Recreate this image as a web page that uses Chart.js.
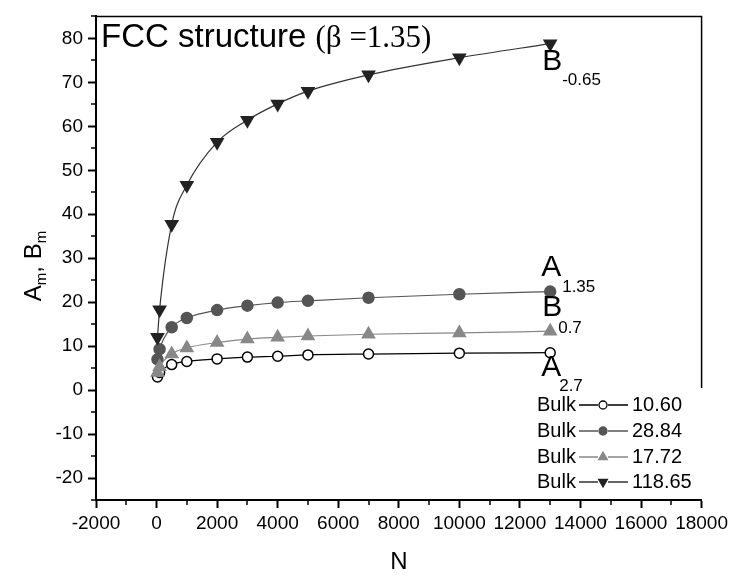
<!DOCTYPE html>
<html>
<head>
<meta charset="utf-8">
<script src="https://cdn.jsdelivr.net/npm/chart.js@4.4.1/dist/chart.umd.min.js"></script>
<style>
  html, body { margin: 0; padding: 0; background: #fff; }
  #wrap { width: 732px; height: 576px; }
</style>
</head>
<body>
<div id="wrap"><canvas id="c" width="732" height="576"></canvas></div>
<script>
// Cluster size N and the coefficients for each series
const N      = [30, 100, 500, 1000, 2000, 3000, 4000, 5000, 7000, 10000, 13000];
const A27    = [3.0, 4.0, 5.8, 6.5, 7.1, 7.5, 7.7, 8.0, 8.2, 8.4, 8.5];
const A135   = [7.0, 9.3, 14.3, 16.4, 18.2, 19.2, 19.9, 20.3, 21.0, 21.8, 22.4];
const B07    = [4.0, 5.3, 8.2, 9.6, 10.8, 11.6, 12.0, 12.3, 12.7, 13.0, 13.4];
const Bm065  = [12.0, 18.3, 37.7, 46.6, 56.4, 61.4, 65.1, 68.0, 71.7, 75.6, 78.8];

// Bulk limits listed in the legend
const bulkValues = ['10.60', '28.84', '17.72', '118.65'];

// Axis ticks
const xTicks = [-2000, 0, 2000, 4000, 6000, 8000, 10000, 12000, 14000, 16000, 18000];
const yTicks = [-20, -10, 0, 10, 20, 30, 40, 50, 60, 70, 80];
const xMinor = [-1000, 1000, 3000, 5000, 7000, 9000, 11000, 13000, 15000, 17000];
const yMinor = [-25, -15, -5, 5, 15, 25, 35, 45, 55, 65, 75, 85];

const SANS = "'Liberation Sans', Arial, sans-serif";
const SERIF = "'Liberation Serif', 'Times New Roman', serif";

function pts(ys) { return N.map((n, i) => ({ x: n, y: ys[i] })); }

// Series styles: marker + line colours, and where the end label sits
const series = [
  { key: 'A', sub: '2.7',   data: A27,   line: '#000', fill: '#fff', stroke: '#000', style: 'circle',   r: 5,   rot: 0,
    lab: { dx: -9, by: 23, sdx: 9, sby: 38 } },
  { key: 'A', sub: '1.35',  data: A135,  line: '#555', fill: '#555', stroke: '#555', style: 'circle',   r: 5.5, rot: 0,
    lab: { dx: -9, by: -16, sdx: 12, sby: 0 } },
  { key: 'B', sub: '0.7',   data: B07,   line: '#888', fill: '#888', stroke: '#888', style: 'triangle', r: 7,   rot: 0,
    lab: { dx: -8, by: -15, sdx: 8, sby: 2 } },
  { key: 'B', sub: '-0.65', data: Bm065, line: '#333', fill: '#222', stroke: '#222', style: 'triangle', r: 7,   rot: 180,
    lab: { dx: -8, by: 26, sdx: 12, sby: 41 } }
];

function richText(ctx, parts, x, y) {
  let cx = x;
  for (const p of parts) {
    ctx.font = p.font;
    ctx.fillText(p.t, cx, y + (p.dy || 0));
    cx += ctx.measureText(p.t).width;
  }
  return cx;
}
function richWidth(ctx, parts) {
  let w = 0;
  for (const p of parts) { ctx.font = p.font; w += ctx.measureText(p.t).width; }
  return w;
}

const decorations = {
  id: 'decorations',
  afterDraw(chart) {
    const ctx = chart.ctx;
    const xs = chart.scales.x, ys = chart.scales.y;
    const area = chart.chartArea;
    ctx.save();
    ctx.strokeStyle = '#000';
    ctx.fillStyle = '#000';

    // minor ticks
    ctx.lineWidth = 1.5;
    ctx.beginPath();
    for (const v of xMinor) {
      const px = Math.round(xs.getPixelForValue(v));
      ctx.moveTo(px, area.bottom); ctx.lineTo(px, area.bottom + 5);
    }
    for (const v of yMinor) {
      const py = Math.round(ys.getPixelForValue(v));
      ctx.moveTo(area.left, py); ctx.lineTo(area.left - 5, py);
    }
    ctx.stroke();

    // top and right frame (right edge stops above the legend)
    ctx.lineWidth = 1.5;
    ctx.beginPath();
    ctx.moveTo(area.left, area.top);
    ctx.lineTo(area.right, area.top);
    ctx.lineTo(area.right, ys.getPixelForValue(0) - 2);
    ctx.stroke();

    // title
    ctx.textBaseline = 'alphabetic';
    ctx.textAlign = 'left';
    ctx.font = '33px ' + SANS;
    ctx.fillText('FCC structure ', area.left + 5, area.top + 31);
    const tw = ctx.measureText('FCC structure ').width;
    ctx.font = '31px ' + SERIF;
    ctx.fillText('(\u03B2 =1.35)', area.left + 5 + tw, area.top + 31);

    // end-of-curve labels
    for (const s of series) {
      const last = s.data.length - 1;
      const px = xs.getPixelForValue(N[last]);
      const py = ys.getPixelForValue(s.data[last]);
      ctx.font = '30px ' + SANS;
      ctx.fillText(s.key, px + s.lab.dx, py + s.lab.by);
      ctx.font = '17px ' + SANS;
      ctx.fillText(s.sub, px + s.lab.sdx, py + s.lab.sby);
    }

    // axis titles
    ctx.font = '24px ' + SANS;
    ctx.textAlign = 'center';
    ctx.fillText('N', (area.left + area.right) / 2, 569);

    ctx.save();
    ctx.translate(41, 266);
    ctx.rotate(-Math.PI / 2);
    ctx.textAlign = 'left';
    const parts = [
      { t: 'A', font: '24px ' + SANS },
      { t: 'm', font: '15px ' + SANS, dy: 5 },
      { t: ', B', font: '24px ' + SANS },
      { t: 'm', font: '15px ' + SANS, dy: 5 }
    ];
    const w = richWidth(ctx, parts);
    richText(ctx, parts, -w / 2, 0);
    ctx.restore();

    // legend of bulk values
    const rowY = [405, 431, 457, 482];
    ctx.textAlign = 'left';
    ctx.textBaseline = 'middle';
    series.forEach((s, i) => {
      const y = rowY[i];
      ctx.fillStyle = '#000';
      ctx.font = '20px ' + SANS;
      ctx.fillText('Bulk', 537, y);
      ctx.strokeStyle = s.line;
      ctx.lineWidth = 1.3;
      ctx.beginPath();
      ctx.moveTo(579, y); ctx.lineTo(598, y);
      ctx.moveTo(608, y); ctx.lineTo(628, y);
      ctx.stroke();
      ctx.fillStyle = s.fill;
      ctx.strokeStyle = s.stroke;
      ctx.lineWidth = 1.3;
      Chart.helpers.drawPoint(ctx, { pointStyle: s.style, radius: s.style === 'circle' ? 4 : 5, rotation: s.rot, borderWidth: 1.3 }, 603, y);
      ctx.fillStyle = '#000';
      ctx.fillText(bulkValues[i], 632, y);
    });

    ctx.restore();
  }
};

const axisCommon = {
  type: 'linear',
  border: { display: true, color: '#000', width: 2 },
  grid: { drawOnChartArea: false, drawTicks: true, tickLength: 8, tickColor: '#000', tickWidth: 2 },
  ticks: { font: { family: SANS, size: 19 }, color: '#000', autoSkip: false, maxRotation: 0, callback: v => String(v) }
};

new Chart(document.getElementById('c'), {
  type: 'line',
  data: {
    datasets: series.map(s => ({
      data: pts(s.data),
      borderColor: s.line,
      borderWidth: 1.2,
      backgroundColor: s.fill,
      pointBackgroundColor: s.fill,
      pointBorderColor: s.stroke,
      pointBorderWidth: 1.5,
      pointStyle: s.style,
      pointRadius: s.r,
      pointRotation: s.rot,
      cubicInterpolationMode: 'monotone',
      fill: false,
      clip: false
    })).reverse()
  },
  options: {
    responsive: false,
    animation: false,
    layout: { padding: { left: 0, right: 29, top: 7, bottom: 0 } },
    plugins: { legend: { display: false }, tooltip: { enabled: false } },
    scales: {
      x: Object.assign({}, axisCommon, {
        min: -2000, max: 18000,
        afterBuildTicks: s => { s.ticks = xTicks.map(v => ({ value: v })); },
        afterFit: s => { s.height = 76; },
        ticks: Object.assign({}, axisCommon.ticks, { padding: 4 })
      }),
      y: Object.assign({}, axisCommon, {
        min: -25, max: 85,
        afterBuildTicks: s => { s.ticks = yTicks.map(v => ({ value: v })); },
        afterFit: s => { s.width = 96; },
        ticks: Object.assign({}, axisCommon.ticks, { padding: 5 })
      })
    }
  },
  plugins: [decorations]
});
</script>
</body>
</html>
